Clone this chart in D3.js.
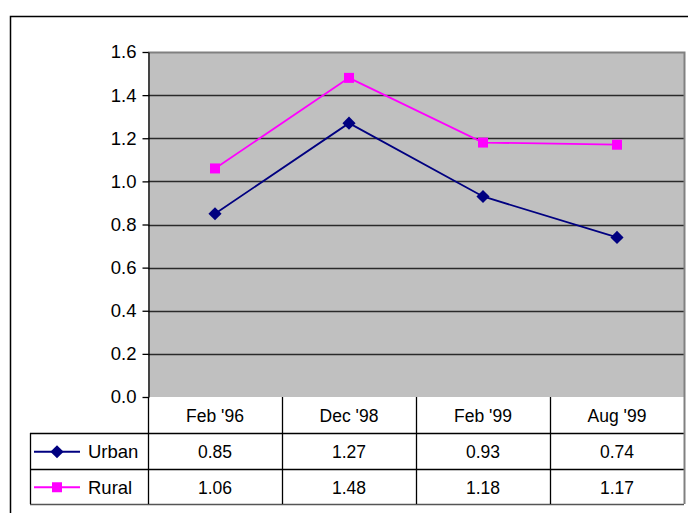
<!DOCTYPE html>
<html>
<head>
<meta charset="utf-8">
<script src="https://cdn.jsdelivr.net/npm/d3@7"></script>
<style>
  html, body { margin: 0; padding: 0; background: #fff; }
  svg { display: block; }
  text { font-family: "Liberation Sans", Arial, sans-serif; fill: #000; }
</style>
</head>
<body>
<svg id="chart" width="688" height="513"></svg>
<script>
// Survey periods and the two series
const categories = ["Feb '96", "Dec '98", "Feb '99", "Aug '99"];
const urban = [0.85, 1.27, 0.93, 0.74];
const rural = [1.06, 1.48, 1.18, 1.17];
const yTicks = [0, 0.2, 0.4, 0.6, 0.8, 1.0, 1.2, 1.4, 1.6];

const seriesList = [
  { name: "Urban", values: urban, color: "#000080", symbol: d3.symbolDiamond2, size: 110 },
  { name: "Rural", values: rural, color: "#ff00ff", symbol: d3.symbolSquare, size: 100 }
];

const svg = d3.select("#chart");
const plot = { left: 148, right: 684, top: 52, bottom: 397 };
const table = { left: 30, header: 433, rowH: 35.5 };

// Outer chart frame
svg.append("rect")
  .attr("x", 10.5).attr("y", 16.5).attr("width", 700).attr("height", 520)
  .attr("fill", "#fff").attr("stroke", "#000").attr("stroke-width", 1.5);

const x = d3.scaleBand().domain(categories).range([plot.left, plot.right]);
const y = d3.scaleLinear().domain([0, 1.6]).range([plot.bottom, plot.top]);

// Plot area background
svg.append("rect")
  .attr("x", plot.left).attr("y", plot.top)
  .attr("width", plot.right - plot.left).attr("height", plot.bottom - plot.top)
  .attr("fill", "#c0c0c0");

// Horizontal gridlines
svg.append("g").selectAll("line")
  .data(yTicks.filter(t => t > 0 && t < 1.6))
  .join("line")
  .attr("x1", plot.left).attr("x2", plot.right)
  .attr("y1", d => Math.round(y(d)) + 0.5).attr("y2", d => Math.round(y(d)) + 0.5)
  .attr("stroke", "#2a2a2a").attr("stroke-width", 1.6);

// Plot area border (top and right in grey)
svg.append("path")
  .attr("d", `M${plot.left},${plot.top + 0.5}H${plot.right + 0.5}V${plot.bottom}`)
  .attr("fill", "none").attr("stroke", "#808080").attr("stroke-width", 2);

// Y axis
const yAxis = d3.axisLeft(y).tickValues(yTicks).tickFormat(d3.format(".1f"))
  .tickSizeInner(6).tickSizeOuter(0).tickPadding(6);
const gy = svg.append("g").attr("transform", `translate(${plot.left + 0.5},0)`).call(yAxis);
gy.select(".domain").attr("stroke", "#000").attr("stroke-width", 1.3);
gy.selectAll(".tick line").attr("stroke", "#000").attr("stroke-width", 1.3);
gy.selectAll(".tick text")
  .style("font-family", "'Liberation Sans', Arial, sans-serif")
  .style("font-size", "18.5px").attr("fill", "#000");

// Series lines and markers
const line = d3.line()
  .x((d, i) => x(categories[i]) + x.bandwidth() / 2)
  .y(d => y(d));

seriesList.forEach(s => {
  svg.append("path")
    .datum(s.values)
    .attr("d", line)
    .attr("fill", "none").attr("stroke", s.color).attr("stroke-width", 1.8);
  svg.append("g").selectAll("path")
    .data(s.values)
    .join("path")
    .attr("transform", (d, i) => `translate(${x(categories[i]) + x.bandwidth() / 2},${y(d)})`)
    .attr("d", d3.symbol(s.symbol, s.size))
    .attr("fill", s.color);
});

// Data table beneath the plot
const tbl = svg.append("g");
const rowY = i => table.header + i * table.rowH;
const tableBottom = rowY(seriesList.length);

// Category header cells
tbl.selectAll("text.cat")
  .data(categories)
  .join("text")
  .attr("class", "cat")
  .attr("x", d => x(d) + x.bandwidth() / 2)
  .attr("y", (plot.bottom + table.header) / 2 + 6.5)
  .attr("text-anchor", "middle")
  .style("font-size", "17.5px")
  .text(d => d);

// Horizontal rules of the table
tbl.selectAll("line.h")
  .data(d3.range(seriesList.length + 1))
  .join("line")
  .attr("class", "h")
  .attr("x1", table.left).attr("x2", plot.right)
  .attr("y1", i => Math.round(rowY(i)) + 0.5).attr("y2", i => Math.round(rowY(i)) + 0.5)
  .attr("stroke", (i) => i === seriesList.length ? "#555" : "#000")
  .attr("stroke-width", 1.3);

// Vertical rules of the table
const vx = [plot.left, ...categories.slice(1).map(c => x(c))];
tbl.selectAll("line.v")
  .data(vx)
  .join("line")
  .attr("class", "v")
  .attr("x1", d => d + 0.5).attr("x2", d => d + 0.5)
  .attr("y1", plot.bottom).attr("y2", tableBottom)
  .attr("stroke", "#000").attr("stroke-width", 1.3);
tbl.append("line")
  .attr("x1", plot.right + 0.5).attr("x2", plot.right + 0.5)
  .attr("y1", plot.bottom).attr("y2", tableBottom)
  .attr("stroke", "#808080").attr("stroke-width", 2);
tbl.append("line")
  .attr("x1", table.left + 0.5).attr("x2", table.left + 0.5)
  .attr("y1", table.header).attr("y2", tableBottom)
  .attr("stroke", "#000").attr("stroke-width", 1.3);

// Rows: legend key, series name and values
seriesList.forEach((s, r) => {
  const cy = rowY(r) + table.rowH / 2 + 1;
  tbl.append("line")
    .attr("x1", table.left + 4).attr("x2", table.left + 50)
    .attr("y1", cy).attr("y2", cy)
    .attr("stroke", s.color).attr("stroke-width", 1.8);
  tbl.append("path")
    .attr("transform", `translate(${table.left + 27},${cy})`)
    .attr("d", d3.symbol(s.symbol, s.size))
    .attr("fill", s.color);
  tbl.append("text")
    .attr("x", table.left + 58).attr("y", cy + 6.5)
    .style("font-size", "18.5px")
    .text(s.name);
  tbl.selectAll(null)
    .data(s.values)
    .join("text")
    .attr("x", (d, i) => x(categories[i]) + x.bandwidth() / 2)
    .attr("y", cy + 6.5)
    .attr("text-anchor", "middle")
    .style("font-size", "17.5px")
    .text(d => d.toFixed(2));
});
</script>
</body>
</html>
